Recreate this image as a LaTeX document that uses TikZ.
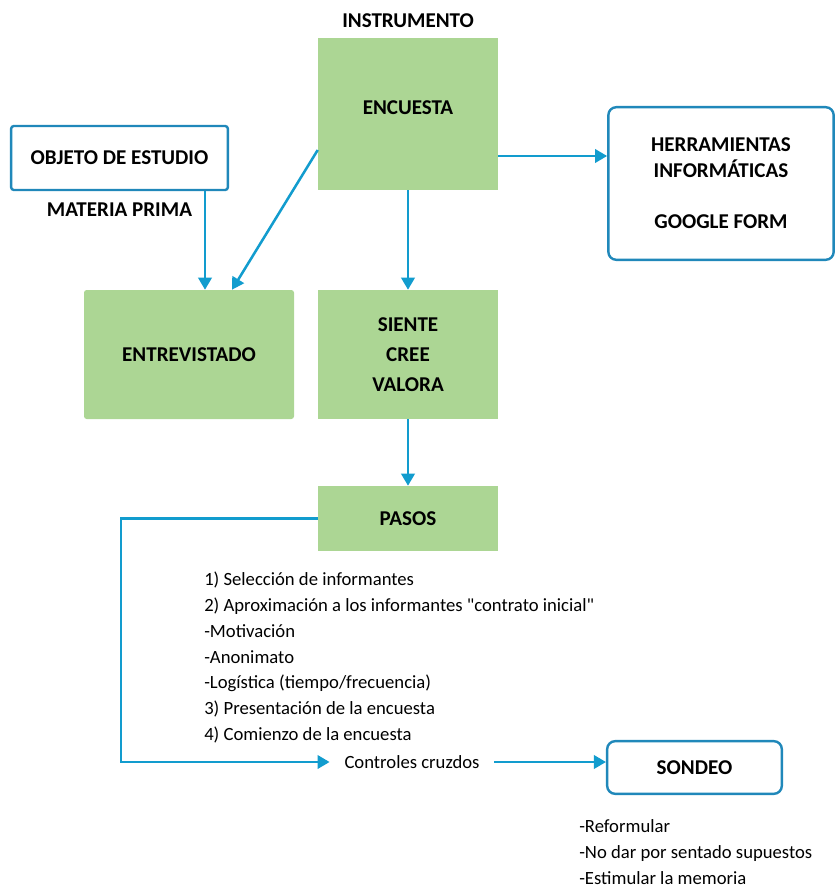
\documentclass[tikz,border=0pt]{standalone}
\usepackage{fontspec}
\setmainfont{Carlito}[Ligatures=TeXOff]
\usepackage{xcolor}
\usetikzlibrary{positioning}
\usetikzlibrary{arrows.meta}

\definecolor{boxgreen}{RGB}{172,214,148}
\definecolor{lineblue}{RGB}{18,156,206}
\definecolor{frameblue}{RGB}{32,136,186}

\tikzset{
  greenbox/.style={rectangle, fill=boxgreen, align=center, font=\bfseries\fontsize{15.8}{19.5}\selectfont},
  bluebox/.style={rectangle, draw=frameblue, line width=1.8pt, rounded corners=6pt, fill=white, align=center, font=\bfseries\fontsize{15.8}{19.5}\selectfont},
  title/.style={rectangle, font=\bfseries\fontsize{15.8}{19.5}\selectfont},
  plain/.style={rectangle, align=left, inner sep=0pt, font=\fontsize{14}{19.4}\selectfont},
  flow/.style={draw=lineblue, line width=1.9pt, -{Triangle[length=9pt,width=10pt]}}
}

\begin{document}
\begin{tikzpicture}[x=0.75pt, y=-0.75pt]

    \useasboundingbox (0,0) rectangle (836,888);

    % Define nodes
    \node[greenbox, minimum width=135pt, minimum height=114pt] (encuesta) at (408,114) {ENCUESTA\\[-10pt]\mbox{}};
    \node[title, above=4pt of encuesta] (instrumento) {INSTRUMENTO};
    \node[bluebox, minimum width=169pt, minimum height=114.5pt] (herram) at (721,183.5) {\mbox{}\\[-10pt]HERRAMIENTAS\\INFORMÁTICAS\\[19pt]GOOGLE FORM};
    \node[bluebox, rounded corners=2pt, minimum width=162.5pt, minimum height=48pt] (objeto) at (119.5,158) {OBJETO DE ESTUDIO};
    \node[title, below=5pt of objeto] (materia) {MATERIA PRIMA};
    \node[greenbox, rounded corners=2pt, minimum width=157.5pt, minimum height=96.75pt] (entrev) at (189,354.5) {ENTREVISTADO};
    \node[greenbox, minimum width=135pt, minimum height=96.75pt] (siente) at (408,354.5) {SIENTE\\[3pt]CREE\\[3pt]VALORA};
    \node[greenbox, minimum width=135pt, minimum height=48.75pt] (pasos) at (408,518.5) {PASOS};
    \node[plain, anchor=north west] (lista) at (204,571.5) {1) Selección de informantes\\
      2) Aproximación a los informantes "contrato inicial"\\
      -Motivación\\
      -Anonimato\\
      -Logística (tiempo/frecuencia)\\
      3) Presentación de la encuesta\\
      4) Comienzo de la encuesta};
    \node[plain, inner xsep=11pt] (ctrl) at (412,762) {Controles cruzdos};
    \node[bluebox, minimum width=131pt, minimum height=39.5pt] (sondeo) at (694.5,767.5) {SONDEO};
    \node[plain, anchor=north west] (consejos) at (579,819.5) {-Reformular\\
      -No dar por sentado supuestos\\
      -Estimular la memoria};

    \coordinate (codo) at (121,518.5);

    % Connect the nodes
    \draw[flow] ([shift={(0,42)}]encuesta.east) -- ([shift={(0,42)}]encuesta.east -| herram.west);
    \draw[flow] ([shift={(0,36)}]encuesta.west) -- ([shift={(43,0)}]entrev.north);
    \draw[flow] ([shift={(85.5,0)}]objeto.south) -- ([shift={(85.5,0)}]objeto.south |- entrev.north);
    \draw[flow] (encuesta.south) -- (siente.north);
    \draw[flow] (siente.south) -- (pasos.north);
    \draw[flow] (pasos.west) -- (codo) |- (ctrl.west);
    \draw[flow] (ctrl.east) -- (ctrl.east -| sondeo.west);

\end{tikzpicture}
\end{document}
